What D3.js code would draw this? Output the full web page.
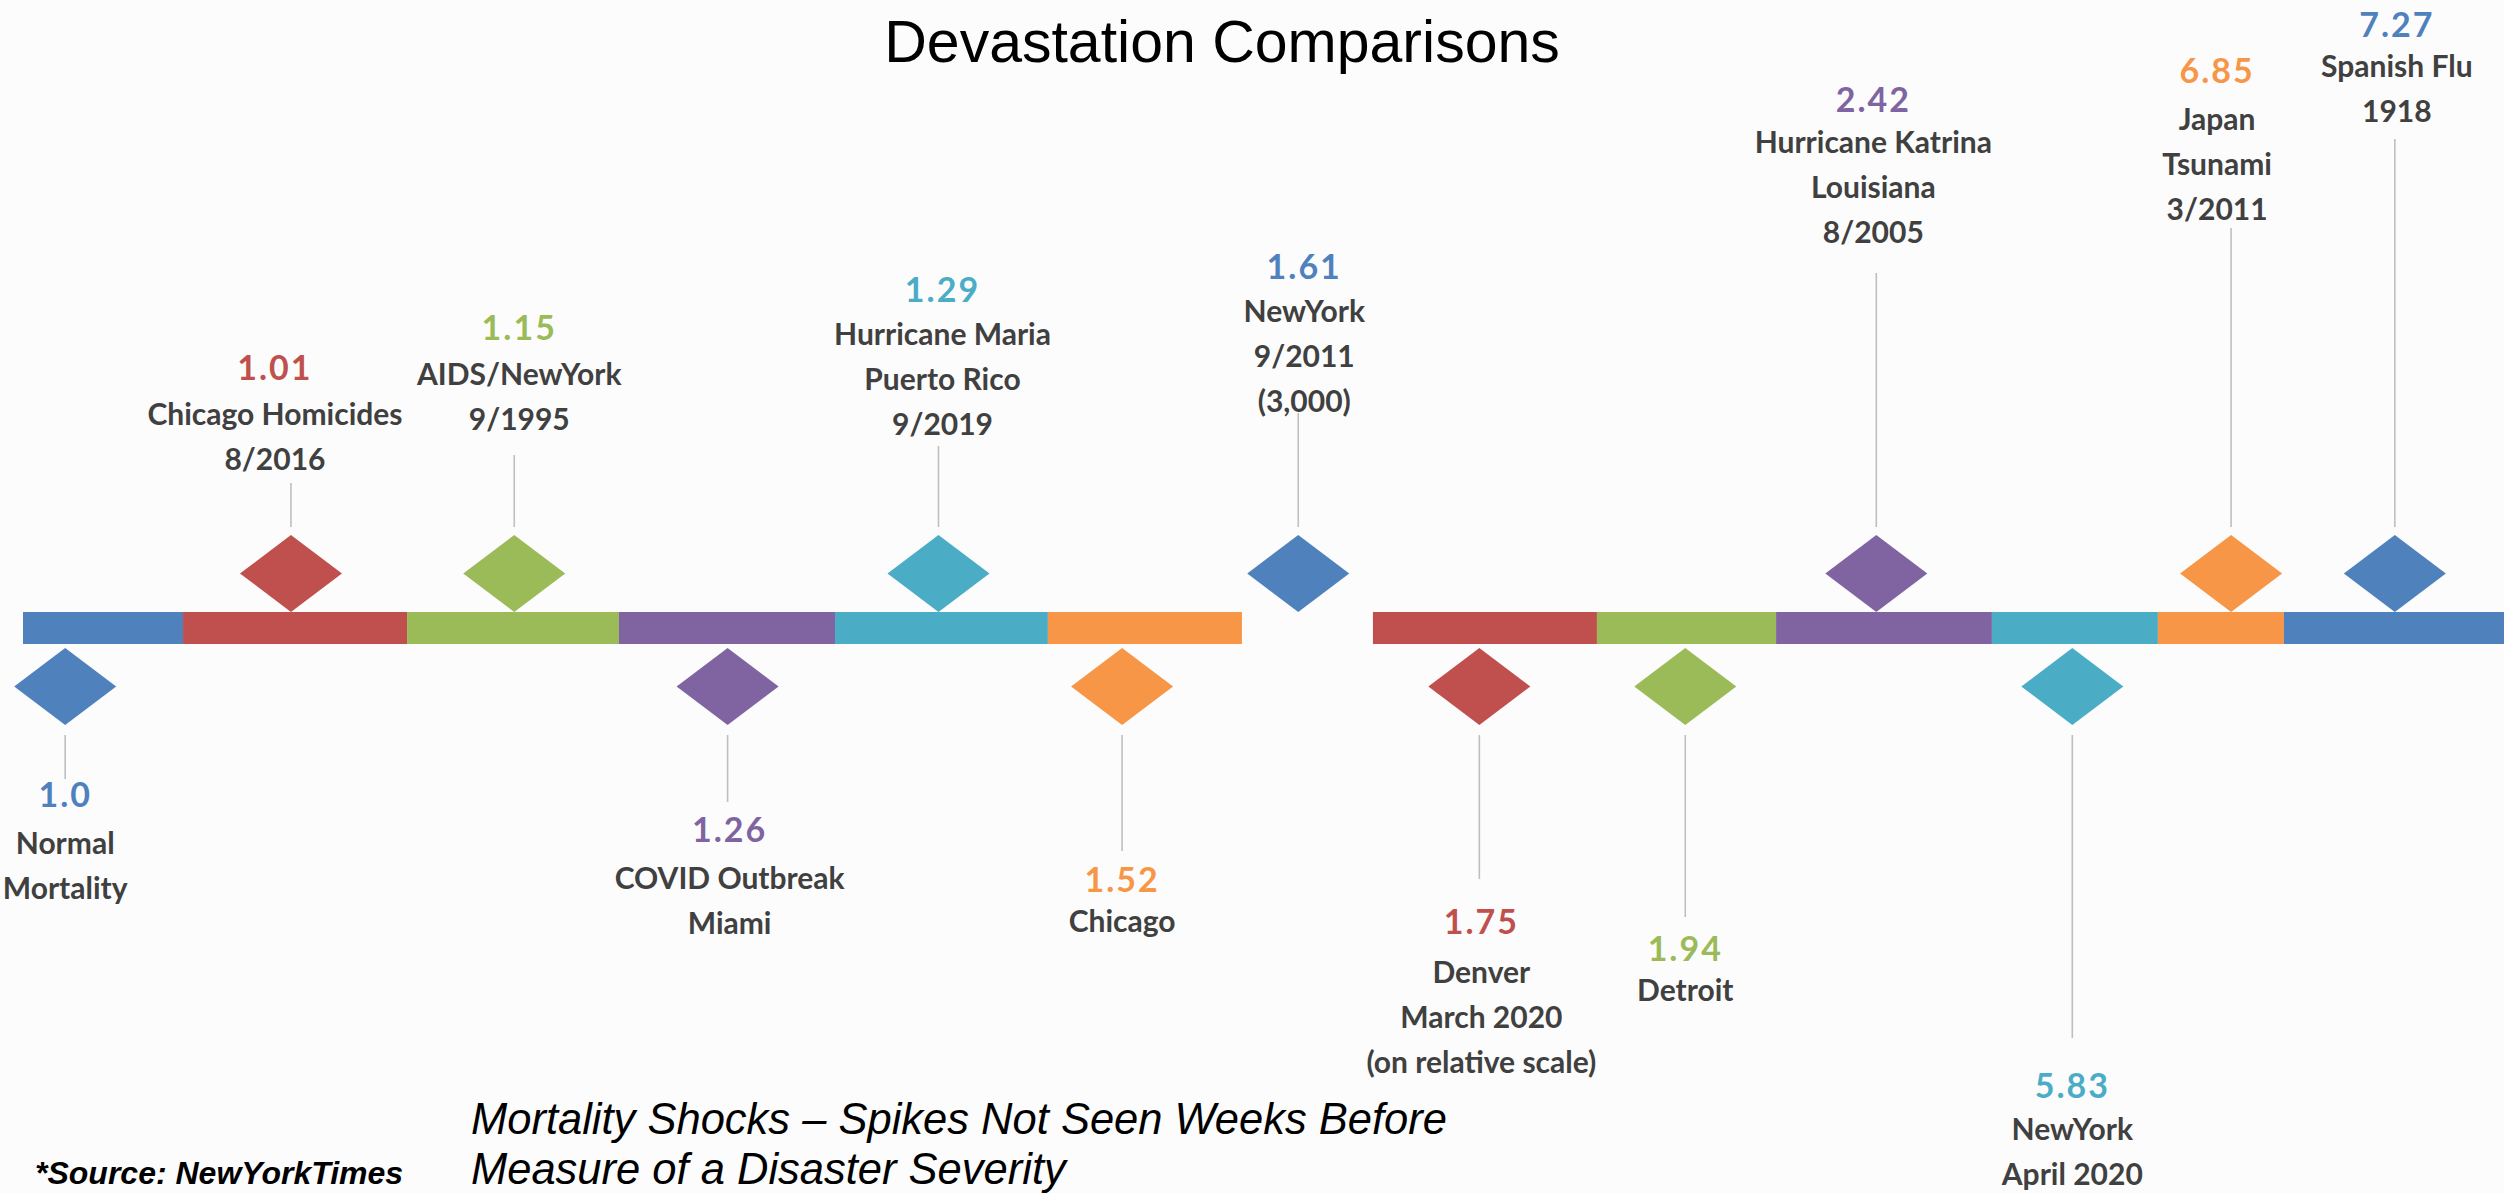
<!DOCTYPE html>
<html>
<head>
<meta charset="utf-8">
<script src="https://cdn.jsdelivr.net/npm/d3@7"></script>
<style>
  html, body { margin: 0; padding: 0; background: #fcfcfc; }
  svg { display: block; }
</style>
</head>
<body>
<svg id="chart" width="2504" height="1193"></svg>
<script>
// ---------------- DATA ----------------
const events = ["Normal Mortality", "Chicago Homicides", "AIDS/NewYork", "COVID Outbreak Miami",
  "Hurricane Maria", "Chicago", "NewYork 9/2011", "Denver", "Detroit", "Hurricane Katrina",
  "NewYork April 2020", "Japan Tsunami", "Spanish Flu"];
const values = [1.0, 1.01, 1.15, 1.26, 1.29, 1.52, 1.61, 1.75, 1.94, 2.42, 5.83, 6.85, 7.27];
const valueLabels = ["1.0", "1.01", "1.15", "1.26", "1.29", "1.52", "1.61", "1.75", "1.94", "2.42", "5.83", "6.85", "7.27"];
const labelLines = [
  ["Normal", "Mortality"],
  ["Chicago Homicides", "8/2016"],
  ["AIDS/NewYork", "9/1995"],
  ["COVID Outbreak", "Miami"],
  ["Hurricane Maria", "Puerto Rico", "9/2019"],
  ["Chicago"],
  ["NewYork", "9/2011", "(3,000)"],
  ["Denver", "March 2020", "(on relative scale)"],
  ["Detroit"],
  ["Hurricane Katrina", "Louisiana", "8/2005"],
  ["NewYork", "April 2020"],
  ["Japan", "Tsunami", "3/2011"],
  ["Spanish Flu", "1918"]
];
const sides = ["below", "above", "above", "below", "above", "below", "above", "below", "below", "above", "below", "above", "above"];
// position of each marker along the timeline (0 = left end, 100 = right end)
const timelinePos = [1.7, 10.8, 19.8, 28.4, 36.9, 44.3, 51.4, 58.7, 67.0, 74.7, 82.6, 89.0, 95.6];
// timeline bar segments (start, end) along the same 0-100 timeline, and the event each belongs to
const segStart = [0, 6.45, 15.48, 24.02, 32.73, 41.31, 54.41, 63.44, 70.66, 79.36, 86.05, 91.13];
const segEnd   = [6.45, 15.48, 24.02, 32.73, 41.31, 49.13, 63.44, 70.66, 79.36, 86.05, 91.13, 100];
const segEvent = [0, 1, 2, 3, 4, 5, 7, 8, 9, 10, 11, 12];

const title = "Devastation Comparisons";
const subtitle1 = "Mortality Shocks \u2013 Spikes Not Seen Weeks Before";
const subtitle2 = "Measure of a Disaster Severity";
const source = "*Source: NewYorkTimes";

// ---------------- STYLE / LAYOUT ----------------
const palette = ["#4F81BD", "#C0504D", "#9BBB59", "#8064A2", "#4BACC6", "#F79646"];
const textColor = "#404040";
// baseline of each value label, and the far end of each connector stem
const valueY  = [807, 380, 340, 842, 302, 892, 279, 934, 961, 112, 1098, 83, 37];
const stemEnd = [779, 483, 455, 802, 446, 851, 413, 879, 917, 273, 1038, 228, 139];
const labelDx = [0, -16, 5, 2, 4, 0, 6, 2, 0, -3, 0, -14, 2];
const firstGap = [47, 45, 45, 47, 43, 40, 43, 49, 40, 41, 42, 47, 40];
const lineGap = 45;

const W = 2504, H = 1193;
const barTop = 612, barH = 32;
const dW = 102, dH = 77;

const svg = d3.select("#chart");
svg.append("rect").attr("width", W).attr("height", H).attr("fill", "#fcfcfc");

const x = d3.scaleLinear().domain([0, 100]).range([23, 2504]);
const color = d3.scaleOrdinal().domain(d3.range(events.length)).range(d3.range(events.length).map(i => palette[i % palette.length]));

// title
svg.append("text")
  .attr("x", 1222).attr("y", 62)
  .attr("text-anchor", "middle")
  .attr("font-family", "Liberation Sans, Arial, sans-serif")
  .attr("font-size", 59)
  .attr("fill", "#000")
  .text(title);

// bar segments
svg.append("g").selectAll("rect")
  .data(d3.range(segStart.length))
  .join("rect")
  .attr("x", i => x(segStart[i]))
  .attr("width", i => x(segEnd[i]) - x(segStart[i]))
  .attr("y", barTop)
  .attr("height", barH)
  .attr("fill", i => color(segEvent[i]));

const idx = d3.range(events.length);

// stems
svg.append("g").selectAll("line")
  .data(idx)
  .join("line")
  .attr("x1", i => x(timelinePos[i]))
  .attr("x2", i => x(timelinePos[i]))
  .attr("y1", i => sides[i] === "above" ? barTop - dH - 8 : barTop + barH + 4 + dH + 10)
  .attr("y2", i => stemEnd[i])
  .attr("stroke", "#bfbfbf")
  .attr("stroke-width", 1.6);

// diamonds
svg.append("g").selectAll("path")
  .data(idx)
  .join("path")
  .attr("d", i => {
    const cx = x(timelinePos[i]);
    const top = sides[i] === "above" ? barTop - dH : barTop + barH + 4;
    return `M${cx},${top} L${cx + dW / 2},${top + dH / 2} L${cx},${top + dH} L${cx - dW / 2},${top + dH / 2} Z`;
  })
  .attr("fill", i => color(i));

// labels
const lab = svg.append("g").selectAll("g")
  .data(idx)
  .join("g")
  .attr("transform", i => `translate(${x(timelinePos[i]) + labelDx[i]},0)`);

lab.append("text")
  .attr("y", i => valueY[i])
  .attr("text-anchor", "middle")
  .attr("font-family", "Lato, 'Open Sans', sans-serif")
  .attr("font-weight", 700)
  .attr("font-size", 34)
  .attr("letter-spacing", 2)
  .attr("fill", i => color(i))
  .text(i => valueLabels[i]);

lab.each(function(i) {
  const g = d3.select(this);
  labelLines[i].forEach((t, k) => {
    g.append("text")
      .attr("y", valueY[i] + firstGap[i] + k * lineGap)
      .attr("text-anchor", "middle")
      .attr("font-family", "Lato, 'Open Sans', sans-serif")
      .attr("font-weight", 700)
      .attr("font-size", 30)
      .attr("fill", textColor)
      .text(t);
  });
});

// subtitle
svg.append("text")
  .attr("x", 471).attr("y", 1134)
  .attr("font-family", "Liberation Sans, Arial, sans-serif")
  .attr("font-style", "italic")
  .attr("font-size", 43.5)
  .attr("fill", "#000")
  .text(subtitle1);
svg.append("text")
  .attr("x", 471).attr("y", 1184)
  .attr("font-family", "Liberation Sans, Arial, sans-serif")
  .attr("font-style", "italic")
  .attr("font-size", 43.5)
  .attr("fill", "#000")
  .text(subtitle2);

svg.append("text")
  .attr("x", 35).attr("y", 1184)
  .attr("font-family", "Liberation Sans, Arial, sans-serif")
  .attr("font-style", "italic")
  .attr("font-weight", 700)
  .attr("font-size", 32)
  .attr("fill", "#000")
  .text(source);
</script>
</body>
</html>
